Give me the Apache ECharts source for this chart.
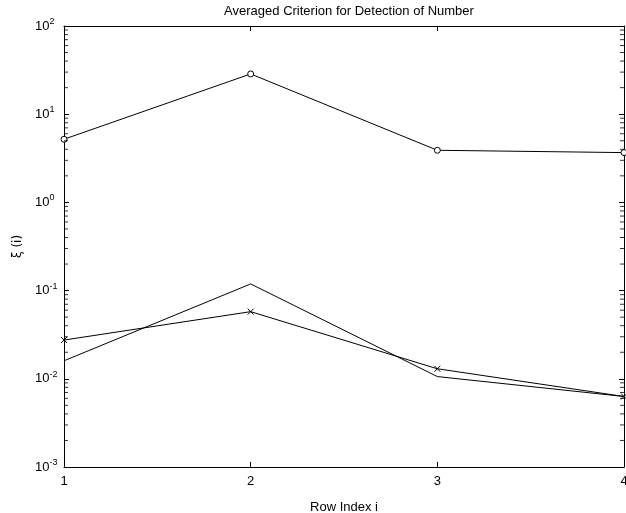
<!DOCTYPE html>
<html lang="en">
<head>
  <meta charset="UTF-8">
  <title>Averaged Criterion for Detection of Number</title>
</head>
<body style="margin:0;background:#fff;">
  <div id="chart" style="width: 626px;height: 513px;"></div>
</body>
<script src="https://cdn.jsdelivr.net/npm/echarts@6/dist/echarts.min.js"></script>
<script>
  // row index
  var rowIndex = [1, 2, 3, 4];
  // series
  var circleSeries = [5.2, 28.6, 3.9, 3.67];
  var crossSeries = [0.0275, 0.0577, 0.013, 0.0063];
  var plainSeries = [0.016, 0.119, 0.0106, 0.0063];
  // log minor ticks (2..9 in each decade)
  var minorTickValues = [
    0.002, 0.003, 0.004, 0.005, 0.006, 0.007, 0.008, 0.009,
    0.02, 0.03, 0.04, 0.05, 0.06, 0.07, 0.08, 0.09,
    0.2, 0.3, 0.4, 0.5, 0.6, 0.7, 0.8, 0.9,
    2, 3, 4, 5, 6, 7, 8, 9,
    20, 30, 40, 50, 60, 70, 80, 90
  ];

  function pairs(ys) {
    return rowIndex.map(function (x, i) { return [x, ys[i]]; });
  }

  var myChart = echarts.init(document.getElementById('chart'));
  var font = 'Liberation Sans, Arial, Helvetica, sans-serif';
  var crossPath = 'path://M0,0L10,10M10,0L0,10';

  var axisLineStyle = { lineStyle: { color: '#000', width: 1 } };

  // short marks for the minor ticks, on the left and right edges
  function minorTicks(x, offset) {
    return {
      type: 'scatter',
      silent: true,
      clip: false,
      z: 10,
      symbol: 'rect',
      symbolSize: [4, 1],
      symbolOffset: [offset, 0],
      itemStyle: { color: '#000' },
      data: minorTickValues.map(function (v) { return [x, v]; })
    };
  }

  myChart.setOption({
    animation: false,
    backgroundColor: '#fff',
    title: {
      text: 'Averaged Criterion for Detection of Number',
      left: 344,
      top: 0,
      textAlign: 'center',
      textStyle: { fontFamily: font, fontSize: 13, fontWeight: 'normal', color: '#000' }
    },
    grid: { left: 64, top: 26, right: 2, bottom: 46, outerBoundsMode: 'none' },
    xAxis: [
      {
        type: 'value', min: 1, max: 4, interval: 1,
        name: 'Row Index i', nameLocation: 'middle', nameGap: 34,
        nameTextStyle: { fontFamily: font, fontSize: 13, color: '#000' },
        axisLine: axisLineStyle,
        axisTick: { inside: true, length: 5, lineStyle: { color: '#000' } },
        axisLabel: { fontFamily: font, fontSize: 13, color: '#000', margin: 8 },
        splitLine: { show: false }
      },
      {
        type: 'value', min: 1, max: 4, interval: 1, position: 'top',
        axisLine: axisLineStyle,
        axisTick: { inside: true, length: 5, lineStyle: { color: '#000' } },
        axisLabel: { show: false },
        splitLine: { show: false }
      }
    ],
    yAxis: [
      {
        type: 'log', logBase: 10, min: 0.001, max: 100,
        name: 'ξ (i)', nameLocation: 'middle', nameGap: 40, nameRotate: 90,
        nameTextStyle: { fontFamily: 'DejaVu Sans, sans-serif', fontSize: 12, color: '#000' },
        axisLine: axisLineStyle,
        axisTick: { inside: true, length: 5, lineStyle: { color: '#000' } },
        axisLabel: {
          align: 'left',
          margin: 29,
          formatter: function (v) {
            var e = Math.round(Math.log10(v));
            return '{b|10}{s|' + e + '}';
          },
          rich: {
            b: { fontFamily: font, fontSize: 13, color: '#000' },
            s: { fontFamily: font, fontSize: 9, color: '#000', padding: [0, 0, 9, 0] }
          }
        },
        splitLine: { show: false }
      },
      {
        type: 'log', logBase: 10, min: 0.001, max: 100, position: 'right',
        axisLine: axisLineStyle,
        axisTick: { inside: true, length: 5, lineStyle: { color: '#000' } },
        axisLabel: { show: false },
        splitLine: { show: false }
      }
    ],
    series: [
      {
        type: 'line',
        data: pairs(circleSeries),
        symbol: 'circle',
        symbolSize: 6,
        lineStyle: { color: '#000', width: 1 },
        itemStyle: { color: '#fff', borderColor: '#000', borderWidth: 1 }
      },
      {
        type: 'line',
        data: pairs(crossSeries),
        symbol: crossPath,
        symbolSize: 6,
        lineStyle: { color: '#000', width: 1 },
        itemStyle: { color: 'none', borderColor: '#000', borderWidth: 1 }
      },
      {
        type: 'line',
        data: pairs(plainSeries),
        symbol: 'none',
        lineStyle: { color: '#000', width: 1 }
      },
      minorTicks(1, 2),
      minorTicks(4, -2)
    ]
  });
</script>
</html>
